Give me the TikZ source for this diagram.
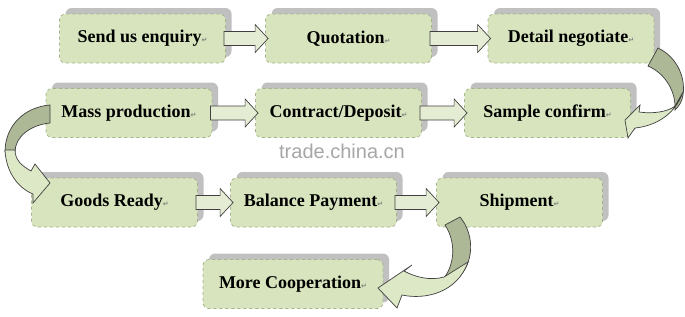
\documentclass[tikz,border=0pt]{standalone}
\usepackage{fontspec}
\setmainfont{Liberation Serif}
\setsansfont{Liberation Sans}
\newfontfamily\dejavu{DejaVu Sans}
\usetikzlibrary{calc,shadows}
\definecolor{boxgreen}{HTML}{D7E4BD}
\definecolor{boxline}{HTML}{A4B48A}
\definecolor{shadegray}{HTML}{C0C0C0}
\definecolor{arrowfill}{HTML}{E4ECD4}
\definecolor{turnfill}{HTML}{ADB896}
\definecolor{outline}{HTML}{404040}
\newcommand{\retmark}{{\dejavu\fontsize{7}{7}\selectfont\textcolor{gray}{↵}}}
\tikzset{stage/.style={draw=boxline, dashed, line width=0.8pt, fill=boxgreen, rounded corners=6pt,
    minimum width=166pt, minimum height=49pt, inner sep=0pt, font=\bfseries\fontsize{18}{20}\selectfont,
    general shadow={fill=shadegray, shadow xshift=6pt, shadow yshift=6pt}},
  flow/.style={draw=outline, line width=0.7pt, fill=arrowfill, line join=miter},
  turnback/.style={draw=outline, line width=0.7pt, fill=turnfill},
  turnfront/.style={draw=outline, line width=0.7pt, fill=boxgreen!85!white}}
% block arrow from the right side of #1 to the left side of #2
\newcommand{\flowarrow}[2]{%
  \draw[flow] ($(#1.east)+(-2,-7)$) -- ($(#2.west)+(-10,-7)$) -- ($(#2.west)+(-10,-14)$)
    -- ($(#2.west)+(3,0)$) -- ($(#2.west)+(-10,14)$) -- ($(#2.west)+(-10,7)$)
    -- ($(#1.east)+(-2,7)$) -- cycle;}

\begin{document}
\begin{tikzpicture}[x=1pt, y=-1pt]
  \useasboundingbox (0,0) rectangle (685,316);
  % watermark
  \node[font=\sffamily\fontsize{20}{22}\selectfont, text=gray!70] (mark) at (342,151) {trade.china.cn};
  % stages
  \node[stage] (enq) at (142.5,38.5) {Send us enquiry\retmark};
  \node[stage] (quo) at (348.5,38.5) {Quotation\retmark};
  \node[stage] (neg) at (571,38.5)   {Detail negotiate\retmark};
  \node[stage] (mas) at (129,113)    {Mass production\retmark};
  \node[stage] (con) at (338.5,113)  {Contract/Deposit\retmark};
  \node[stage] (sam) at (547.5,113)  {Sample confirm\retmark};
  \node[stage] (goo) at (114.5,202.5) {Goods Ready\retmark};
  \node[stage] (bal) at (313.5,202.5) {Balance Payment\retmark};
  \node[stage] (shi) at (519.5,202.5) {Shipment\retmark};
  \node[stage, minimum width=180pt] (mor) at (293,284) {More Cooperation\retmark};
  % straight arrows
  \flowarrow{enq}{quo}
  \flowarrow{quo}{neg}
  \flowarrow{mas}{con}
  \flowarrow{con}{sam}
  \flowarrow{goo}{bal}
  \flowarrow{bal}{shi}
  % turn: detail negotiate -> sample confirm
  \draw[turnback] (648,66) -- (658,48) .. controls (675,56) and (686,75) .. (683,95)
    .. controls (682,102) and (679,106) .. (675,110) .. controls (676,92) and (666,74) .. cycle;
  \draw[turnfront] (675,106) .. controls (668,112) and (652,114) .. (639,112) -- (640,105) -- (625,120)
    -- (628,138) -- (635,128) .. controls (655,126) and (675,115) .. (683,92) -- cycle;
  % turn: mass production -> goods ready
  \draw[turnback] (50,123) -- (50,105) .. controls (25,107) and (5,125) .. (5,152)
    -- (15,152) .. controls (15,137) and (30,125) .. cycle;
  \draw[turnfront] (5,150) .. controls (6,172) and (18,188) .. (33,194) -- (33,203) -- (50,183)
    -- (35,164) -- (31,171) .. controls (22,166) and (15,160) .. (15,150) -- cycle;
  % turn: shipment -> more cooperation
  \draw[turnback] (445,225) -- (460,217) .. controls (475,235) and (474,263) .. (458,278)
    -- (444,278) .. controls (456,262) and (455,240) .. cycle;
  \draw[turnfront] (444,277) .. controls (430,281) and (415,277) .. (404,271) -- (412,265) -- (378,288)
    -- (397,308) -- (402,295) .. controls (425,300) and (457,293) .. (468,262) -- cycle;
\end{tikzpicture}
\end{document}
